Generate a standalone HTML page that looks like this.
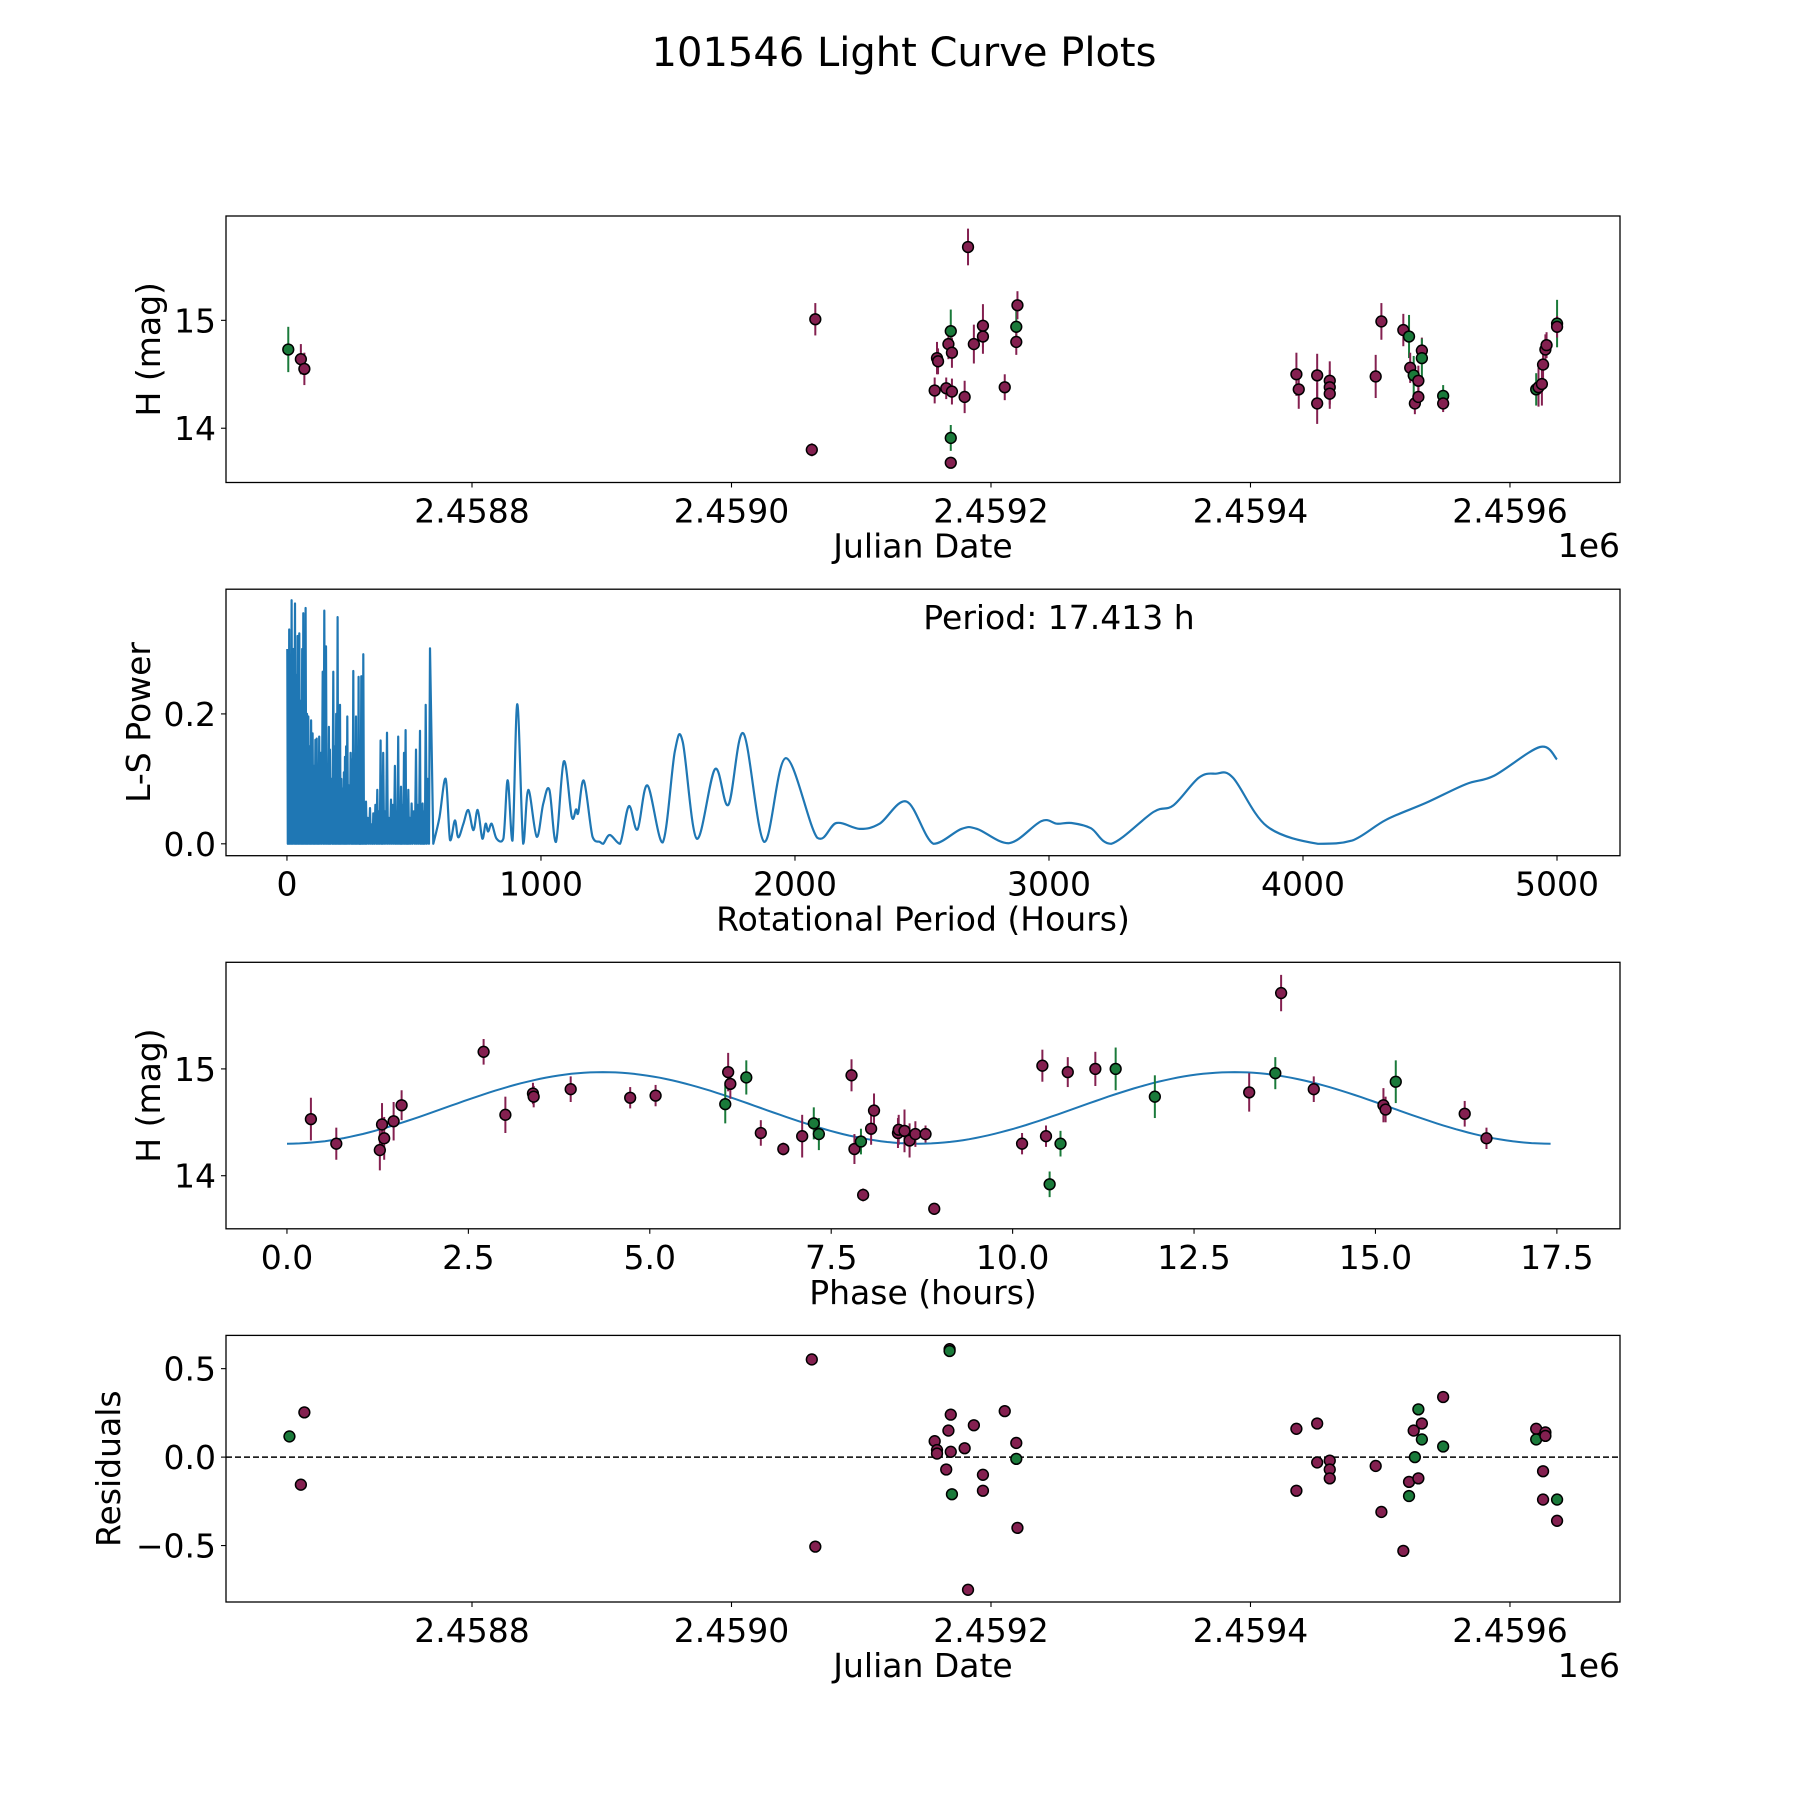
<!DOCTYPE html>
<html><head><meta charset="utf-8"><title>101546 Light Curve Plots</title>
<style>html,body{margin:0;padding:0;background:#fff}svg{display:block}text{font-family:"DejaVu Sans","Liberation Sans",sans-serif;fill:#000}</style>
</head><body>
<svg id="fig" width="1800" height="1800" viewBox="0 0 1800 1800" xmlns="http://www.w3.org/2000/svg">
<rect width="1800" height="1800" fill="#fff"/>
<text x="904" y="66" font-size="40" text-anchor="middle">101546 Light Curve Plots</text>
</svg>
<script>
// ---- Panel 1: light curve (JD, mag, err, filter) ----
const lcJD=[2458658.4,2458668.1,2458670.8,2459061.9,2459064.6,2459156.6,2459158.4,2459159.2,2459165.5,2459167.2,2459169.0,2459169.0,2459169.0,2459169.9,2459169.9,2459179.7,2459182.3,2459186.8,2459193.8,2459193.8,2459210.6,2459219.5,2459219.5,2459220.4,2459435.4,2459437.2,2459451.4,2459451.4,2459461.1,2459461.1,2459461.1,2459496.5,2459500.9,2459517.8,2459522.2,2459523.1,2459525.8,2459526.7,2459529.4,2459529.4,2459532.1,2459532.1,2459548.5,2459548.5,2459620.2,2459622.0,2459624.6,2459625.5,2459627.3,2459628.2,2459636.3,2459636.3];
const lcMag=[14.73,14.64,14.55,13.80,15.01,14.35,14.65,14.62,14.37,14.78,13.91,13.68,14.90,14.70,14.34,14.29,15.68,14.78,14.95,14.85,14.38,14.94,14.80,15.14,14.50,14.36,14.49,14.23,14.44,14.38,14.32,14.48,14.99,14.91,14.85,14.56,14.49,14.23,14.44,14.29,14.72,14.65,14.30,14.23,14.36,14.38,14.41,14.59,14.73,14.77,14.97,14.94];
const lcErr=[0.21,0.14,0.15,0.06,0.15,0.12,0.15,0.12,0.10,0.14,0.12,0.05,0.20,0.14,0.12,0.15,0.17,0.18,0.20,0.16,0.12,0.16,0.12,0.13,0.20,0.18,0.20,0.19,0.18,0.16,0.14,0.20,0.17,0.15,0.20,0.14,0.18,0.10,0.14,0.10,0.12,0.18,0.10,0.08,0.15,0.18,0.20,0.18,0.14,0.12,0.22,0.10];
const lcFilt=["g","p","p","p","p","p","p","p","p","p","g","p","g","p","p","p","p","p","p","p","p","g","p","p","p","p","p","p","p","p","p","p","p","p","g","p","g","p","p","p","p","g","g","p","g","p","p","p","p","p","g","p"];
// ---- Panel 2: periodogram ----
const spikePeriods=[1.3,5,9,14,18.4,24,31.5,36,42,48.6,54,60,64.3,69,73.5,79,84,90,95,101,106,112,117,122,127,133,140.5,147,153.6,160,165,169,175,182.4,188,194,199.5,204,208.7,214,219,224,228.4,233,237.5,244,250.7,256,261,266,271.7,277,282,287,292.7,297,300.5,306,311,318,327,334,340,348,355.6,362,368.8,374,379,386,393.7,401,409.5,417,425,431,438,443,449,455,460.6,467,472,477.7,484,490.8,499,508,515,523.6,529,534,540,546,555,563];
const spikePowers=[0.30,0.25,0.33,0.28,0.375,0.30,0.37,0.26,0.32,0.324,0.22,0.30,0.355,0.25,0.363,0.20,0.196,0.15,0.19,0.17,0.12,0.16,0.162,0.10,0.165,0.14,0.265,0.359,0.304,0.12,0.18,0.145,0.10,0.265,0.15,0.20,0.349,0.12,0.214,0.10,0.085,0.11,0.134,0.15,0.196,0.09,0.14,0.13,0.266,0.10,0.196,0.12,0.257,0.09,0.258,0.11,0.292,0.05,0.065,0.04,0.055,0.03,0.047,0.06,0.083,0.05,0.159,0.07,0.140,0.05,0.171,0.04,0.068,0.06,0.120,0.05,0.165,0.04,0.088,0.06,0.14,0.175,0.05,0.083,0.04,0.062,0.05,0.145,0.06,0.174,0.04,0.062,0.05,0.214,0.10,0.301];
const smoothPeriods=[576,600,625,642,661,674,694,714,734,751,769,782,792,806,825,852,869,888,907,930,950,983,1009,1033,1059,1090,1121,1138,1147,1169,1203,1232,1245,1271,1311,1346,1380,1419,1479,1527,1558,1613,1685,1738,1797,1879,1964,2087,2163,2255,2333,2440,2545,2655,2717,2843,2970,3031,3089,3165,3245,3411,3489,3590,3657,3724,3858,4059,4193,4327,4484,4642,4753,4933,5000];
const smoothPowers=[0.0,0.04,0.10,0.006,0.036,0.01,0.03,0.052,0.021,0.052,0.008,0.031,0.019,0.031,0.008,0.008,0.098,0.005,0.215,0.0,0.083,0.011,0.062,0.083,0.003,0.127,0.042,0.053,0.048,0.097,0.011,0.003,0.0,0.0135,0.0,0.058,0.022,0.09,0.002,0.142,0.157,0.008,0.115,0.06,0.17,0.003,0.132,0.0095,0.032,0.023,0.031,0.065,0.0,0.023,0.023,0.001,0.035,0.031,0.032,0.024,0.0,0.049,0.059,0.102,0.108,0.102,0.027,0.0,0.005,0.037,0.063,0.092,0.105,0.149,0.13];
// ---- Panel 3: phased curve ----
const phPhase=[0.33,0.68,1.28,1.31,1.34,1.47,1.58,2.71,3.01,3.39,3.40,3.91,4.73,5.08,6.04,6.08,6.11,6.33,6.53,6.84,7.10,7.26,7.33,7.78,7.82,7.91,7.94,8.05,8.09,8.42,8.43,8.51,8.58,8.66,8.80,8.92,10.13,10.41,10.46,10.51,10.66,10.76,11.14,11.42,11.96,13.26,13.62,13.70,14.15,15.11,15.14,15.28,16.23,16.53];
const phMag=[14.53,14.30,14.24,14.48,14.35,14.51,14.66,15.16,14.57,14.77,14.74,14.81,14.73,14.75,14.67,14.97,14.86,14.92,14.40,14.25,14.37,14.49,14.39,14.94,14.25,14.32,13.82,14.44,14.61,14.40,14.43,14.42,14.33,14.39,14.39,13.69,14.30,15.03,14.37,13.92,14.30,14.97,15.00,15.00,14.74,14.78,14.96,15.71,14.81,14.66,14.62,14.88,14.58,14.35];
const phErr=[0.20,0.15,0.19,0.20,0.20,0.18,0.14,0.12,0.17,0.10,0.10,0.12,0.10,0.10,0.18,0.18,0.14,0.16,0.12,0.06,0.20,0.15,0.15,0.15,0.14,0.12,0.06,0.15,0.16,0.14,0.14,0.20,0.16,0.12,0.08,0.05,0.10,0.15,0.10,0.12,0.12,0.14,0.16,0.20,0.20,0.18,0.15,0.17,0.12,0.16,0.12,0.20,0.12,0.10];
const phFilt=["p","p","p","p","p","p","p","p","p","p","p","p","p","p","g","p","p","g","p","p","p","g","g","p","p","g","p","p","p","p","p","p","p","p","p","p","p","p","p","g","g","p","p","g","g","p","g","p","p","p","p","g","p","p"];
const fitParams=[14.635,0.335,8.7,17.413]; // offset, amplitude, fold period, phase span
// ---- Panel 4: residuals ----
const resJD=[2458659.3,2458670.8,2458668.1,2459061.9,2459064.6,2459156.6,2459158.4,2459158.4,2459167.2,2459165.5,2459169.0,2459169.0,2459168.1,2459168.1,2459169.9,2459179.7,2459186.8,2459193.8,2459193.8,2459182.3,2459210.6,2459219.5,2459219.5,2459220.4,2459435.4,2459435.4,2459451.4,2459451.4,2459461.1,2459461.1,2459461.1,2459496.5,2459500.9,2459517.8,2459522.2,2459522.2,2459525.8,2459526.7,2459529.4,2459532.1,2459532.1,2459529.4,2459548.5,2459548.5,2459620.2,2459620.2,2459627.3,2459627.3,2459625.5,2459625.5,2459636.3,2459636.3];
const resVal=[0.117,0.253,-0.156,0.552,-0.506,0.09,0.04,0.02,0.15,-0.07,0.24,0.03,0.61,0.60,-0.21,0.05,0.18,-0.10,-0.19,-0.75,0.26,0.08,-0.01,-0.40,0.16,-0.19,0.19,-0.03,-0.02,-0.07,-0.12,-0.05,-0.31,-0.53,-0.14,-0.22,0.15,0.0,0.27,0.19,0.10,-0.12,0.34,0.06,0.16,0.10,0.14,0.12,-0.08,-0.24,-0.24,-0.36];
const resFilt=["g","p","p","p","p","p","p","p","p","p","p","p","p","g","g","p","p","p","p","p","p","p","g","p","p","p","p","p","p","p","p","p","p","p","p","g","p","g","g","p","g","p","p","g","p","g","p","p","p","p","g","p"];
// ---- ticks ----
const jdTicks=[2458800,2459000,2459200,2459400,2459600];
const jdTickLabels=["2.4588","2.4590","2.4592","2.4594","2.4596"];
const magTicks=[14,15];
const periodTicks=[0,1000,2000,3000,4000,5000];
const powerTicks=[0,0.2];
const powerTickLabels=["0.0","0.2"];
const phaseTicks=[0,2.5,5,7.5,10,12.5,15,17.5];
const phaseTickLabels=["0.0","2.5","5.0","7.5","10.0","12.5","15.0","17.5"];
const resTicks=[-0.5,0,0.5];
const resTickLabels=["\u22120.5","0.0","0.5"];

const NS="http://www.w3.org/2000/svg";
const svg=document.getElementById('fig');
const COL={p:"#842050",g:"#1a7a3a"};
const L=226,R=1620;
function mk(tag,attrs,parent){const e=document.createElementNS(NS,tag);for(const k in attrs)e.setAttribute(k,attrs[k]);(parent||svg).appendChild(e);return e;}
function scale(d0,d1,p0,p1){return v=>p0+(v-d0)*(p1-p0)/(d1-d0);}
function axes(name,top,bot,xs,ys,xt,xl,yt,yl,xlab,ylab,ylabX){
  const g=mk('g',{});
  
  
  xt.forEach((t,i)=>{const x=xs(t);
    const tk=mk('line',{x1:x,x2:x,y1:bot,y2:bot+5,stroke:'#000','stroke-width':1.1},g);
    
    const tx=mk('text',{x:x,y:bot+40,'font-size':33,'text-anchor':'middle'},g);tx.textContent=xl[i];
    });
  yt.forEach((t,i)=>{const y=ys(t);
    const tk=mk('line',{x1:L-5,x2:L,y1:y,y2:y,stroke:'#000','stroke-width':1.1},g);
    
    const tx=mk('text',{x:L-10,y:y+12,'font-size':33,'text-anchor':'end'},g);tx.textContent=yl[i];
    });
  const xlb=mk('text',{x:923,y:bot+75,'font-size':33,'text-anchor':'middle'},g);xlb.textContent=xlab;
  
  const cy=(top+bot)/2;
  const ylb=mk('text',{x:ylabX,y:cy,'font-size':33,'text-anchor':'middle',transform:`rotate(-90 ${ylabX} ${cy})`},g);ylb.textContent=ylab;
  
  const cp='clip'+name;const cl=mk('clipPath',{id:cp},g);mk('rect',{x:L,y:top,width:R-L,height:bot-top},cl);
  const plot=mk('g',{'clip-path':`url(#${cp})`},g);
  return {g,plot,frame:()=>{const f=mk('rect',{x:L,y:top,width:R-L,height:bot-top,fill:'none',stroke:'#000','stroke-width':1.3},g);
    }};
}
function points(plot,xs,ys,X,Y,E,F,nm){
  X.forEach((x,i)=>{const px=xs(x),py=ys(Y[i]);
    if(E){const eb=mk('line',{x1:px,x2:px,y1:ys(Y[i]+E[i]),y2:ys(Y[i]-E[i]),stroke:COL[F[i]],'stroke-width':2},plot);
      }
  });
  X.forEach((x,i)=>{const c=mk('circle',{cx:xs(x),cy:ys(Y[i]),r:5.4,fill:COL[F[i]],stroke:'#000','stroke-width':1.5},plot);
    });
}
// Panel 1
{const top=216,bot=482.5;const xs=scale(2458610.4,2459684.8,L,R),ys=scale(13.497,15.967,bot,top);
 const a=axes('light-curve-panel',top,bot,xs,ys,jdTicks,jdTickLabels,magTicks,magTicks.map(String),'Julian Date','H (mag)',160);
 points(a.plot,xs,ys,lcJD,lcMag,lcErr,lcFilt,'observation-point');a.frame();
 const o=mk('text',{x:R,y:557,'font-size':33,'text-anchor':'end'},a.g);o.textContent='1e6';
 }
// Panel 2
{const top=589.2,bot=855.7;const xs=scale(-240,5248,L,R),ys=scale(-0.0183,0.392,bot,top);
 const a=axes('periodogram-panel',top,bot,xs,ys,periodTicks,periodTicks.map(String),powerTicks,powerTickLabels,'Rotational Period (Hours)','L-S Power',150);
 let d='';spikePeriods.forEach((p,i)=>{const x=xs(p);const nx=i+1<spikePeriods.length?xs(spikePeriods[i+1]):x;
   d+=(i?'L':'M')+x.toFixed(1)+','+ys(spikePowers[i]).toFixed(1);
   if(i+1<spikePeriods.length)d+='L'+((x+nx)/2).toFixed(1)+','+ys(0).toFixed(1);});
 const y0=ys(0);
 const pts=smoothPeriods.map((p,i)=>[xs(p),ys(smoothPowers[i])]);
 d+='L'+pts[0][0].toFixed(1)+','+pts[0][1].toFixed(1);
 for(let i=0;i<pts.length-1;i++){const p0=pts[Math.max(0,i-1)],p1=pts[i],p2=pts[i+1],p3=pts[Math.min(pts.length-1,i+2)];
   const c1=[p1[0]+(p2[0]-p0[0])/6,Math.min(y0,p1[1]+(p2[1]-p0[1])/6)],c2=[p2[0]-(p3[0]-p1[0])/6,Math.min(y0,p2[1]-(p3[1]-p1[1])/6)];
   d+=`C${c1[0].toFixed(1)},${c1[1].toFixed(1)} ${c2[0].toFixed(1)},${c2[1].toFixed(1)} ${p2[0].toFixed(1)},${p2[1].toFixed(1)}`;}
 const ln=mk('path',{d:d,fill:'none',stroke:'#1f77b4','stroke-width':2.2,'stroke-linejoin':'round'},a.plot);
 
 a.frame();
 const t=mk('text',{x:1059,y:629,'font-size':33,'text-anchor':'middle'},a.g);t.textContent='Period: 17.413 h';
 }
// Panel 3
{const top=962.3,bot=1228.8;const xs=scale(-0.84,18.37,L,R),ys=scale(13.503,15.998,bot,top);
 const a=axes('phase-panel',top,bot,xs,ys,phaseTicks,phaseTickLabels,magTicks,magTicks.map(String),'Phase (hours)','H (mag)',160);
 let d='';for(let i=0;i<=200;i++){const ph=fitParams[3]*i/200;const m=fitParams[0]-fitParams[1]*Math.cos(2*Math.PI*ph/fitParams[2]);
   d+=(i?'L':'M')+xs(ph).toFixed(1)+','+ys(m).toFixed(1);}
 const fl=mk('path',{d:d,fill:'none',stroke:'#1f77b4','stroke-width':2},a.plot);
 
 points(a.plot,xs,ys,phPhase,phMag,phErr,phFilt,'phased-point');a.frame();}
// Panel 4
{const top=1335.4,bot=1602;const xs=scale(2458610.4,2459684.8,L,R),ys=scale(-0.819,0.688,bot,top);
 const a=axes('residuals-panel',top,bot,xs,ys,jdTicks,jdTickLabels,resTicks,resTickLabels,'Julian Date','Residuals',120);
 const z=mk('line',{x1:L,x2:R,y1:ys(0),y2:ys(0),stroke:'#000','stroke-width':1.5,'stroke-dasharray':'6,3'},a.plot);
 
 points(a.plot,xs,ys,resJD,resVal,null,resFilt,'residual-point');a.frame();
 const o=mk('text',{x:R,y:1677,'font-size':33,'text-anchor':'end'},a.g);o.textContent='1e6';
 }
</script>
</body></html>
